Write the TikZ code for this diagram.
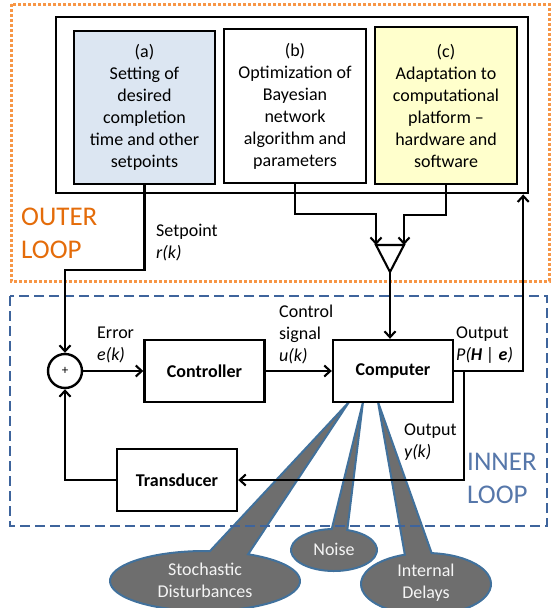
\documentclass[tikz,border=0pt]{standalone}
\usepackage{fontspec}
\setmainfont{Carlito}
\usetikzlibrary{arrows.meta}
\definecolor{outerorange}{HTML}{F79646}
\definecolor{outertext}{HTML}{E46C0A}
\definecolor{innerblue}{HTML}{3E649C}
\definecolor{innertext}{HTML}{5677AA}
\definecolor{setfill}{HTML}{DCE6F2}
\definecolor{platfill}{HTML}{FFFFCC}
\definecolor{calloutfill}{HTML}{6E6E6E}
\definecolor{calloutline}{HTML}{41719C}

\begin{document}
\begin{tikzpicture}[x=1pt, y=-1pt, >={Straight Barb[length=6pt,width=11pt]},
	every node/.style={font=\fontsize{18}{22}\selectfont},
	block/.style={draw, line width=2.4pt, align=center, inner sep=0pt},
	unit/.style={block, minimum width=120pt, minimum height=62pt, font=\fontsize{18}{22}\selectfont\bfseries},
	sig/.style={align=left, anchor=west, inner sep=0pt},
	loopname/.style={align=left, anchor=west, inner sep=0pt, font=\fontsize{27}{33}\selectfont},
	wire/.style={line width=2.1pt},
	callout/.style={fill=calloutfill, draw=calloutline, line width=2pt},
	callouttext/.style={align=center, inner sep=0pt, text=black!4}]
	\useasboundingbox (0,0) rectangle (551,608);
	% disturbance callouts
	\draw[callout] (349,402) -- ([shift={(-63:95 and 30)}]205,581) arc[start angle=-63, end angle=273, x radius=95, y radius=30] -- cycle;
	\draw[callout] (363,402) -- ([shift={(-72:43 and 21)}]334,550) arc[start angle=-72, end angle=267, x radius=43, y radius=21] -- cycle;
	\draw[callout] (378,402) -- ([shift={(-85:65 and 31)}]426,584) arc[start angle=-85, end angle=251, x radius=65, y radius=31] -- cycle;
	\node[callouttext] (stoch) at (205,580) {Stochastic\\Disturbances};
	\node[callouttext] (noise) at (334,549) {Noise};
	\node[callouttext] (delay) at (426,583) {Internal\\Delays};
	% the two loops
	\draw[outerorange, line width=3pt, dash pattern=on 3pt off 2pt] (11,4) rectangle (549,281);
	\draw[innerblue, line width=2.6pt, dash pattern=on 10pt off 5pt] (10,296) rectangle (547,526);
	\node[loopname, text=outertext] (outerlbl) at (21,233) {OUTER\\LOOP};
	\node[loopname, text=innertext] (innerlbl) at (467,478) {INNER\\LOOP};
	% outer loop blocks
	\node[block, line width=2.8pt, minimum width=472pt, minimum height=176pt] (outer) at (292,105) {};
	\node[block, fill=setfill, minimum width=141pt, minimum height=153pt] (seta) at (144.5,107.5) {(a)\\Setting of\\desired\\completion\\time and other\\setpoints};
	\node[block, minimum width=142pt, minimum height=154pt] (optb) at (295,106) {(b)\\Optimization of\\Bayesian\\network\\algorithm and\\parameters};
	\node[block, fill=platfill, minimum width=142pt, minimum height=157pt] (adaptc) at (446,105.5) {(c)\\Adaptation to\\computational\\platform --\\hardware and\\software};
	\draw[wire] (376,245) coordinate (mixl) -- (404,245) coordinate (mixr) -- (390,272) coordinate (mixtip) -- cycle;
	% inner loop blocks
	\node[circle, draw, line width=2.4pt, minimum size=34pt, inner sep=0pt, font=\fontsize{13}{13}\selectfont] (sum) at (65,371) {+};
	\node[unit] (ctrl) at (204.5,371) {Controller};
	\node[unit] (comp) at (393,371) {Computer};
	\node[unit] (trans) at (177,480) {Transducer};
	% connectors
	\draw[wire,->] (seta.south) -- ++(0,85) -| (sum.north);
	\draw[wire,->] (optb.south) -- ++(0,30) -| (mixl);
	\draw[wire,->] (adaptc.south) -- ++(0,30) -| (mixr);
	\draw[wire,->] (mixtip) -- (mixtip |- comp.north);
	\draw[wire,->] (sum) -- (ctrl);
	\draw[wire,->] (ctrl) -- (comp);
	\draw[wire,->] (comp.east) -- ++(69,0) coordinate (outtap) -- (outtap |- outer.south);
	\draw[wire,->] (comp.east) ++(10,0) coordinate (fbtap) |- (trans.east);
	\draw[wire,->] (trans.west) -| (sum.south);
	% signal labels
	\node[sig] (setlbl) at (156,243) {Setpoint\\\textit{r(k)}};
	\node[sig] (errlbl) at (97,345) {Error\\\textit{e(k)}};
	\node[sig] (ulbl) at (279,334) {Control\\signal\\\textit{u(k)}};
	\node[sig] (plbl) at (456,345) {Output\\\textit{P(\textbf{H} | \textbf{e})}};
	\node[sig] (ylbl) at (404,442) {Output\\\textit{y(k)}};
\end{tikzpicture}
\end{document}
